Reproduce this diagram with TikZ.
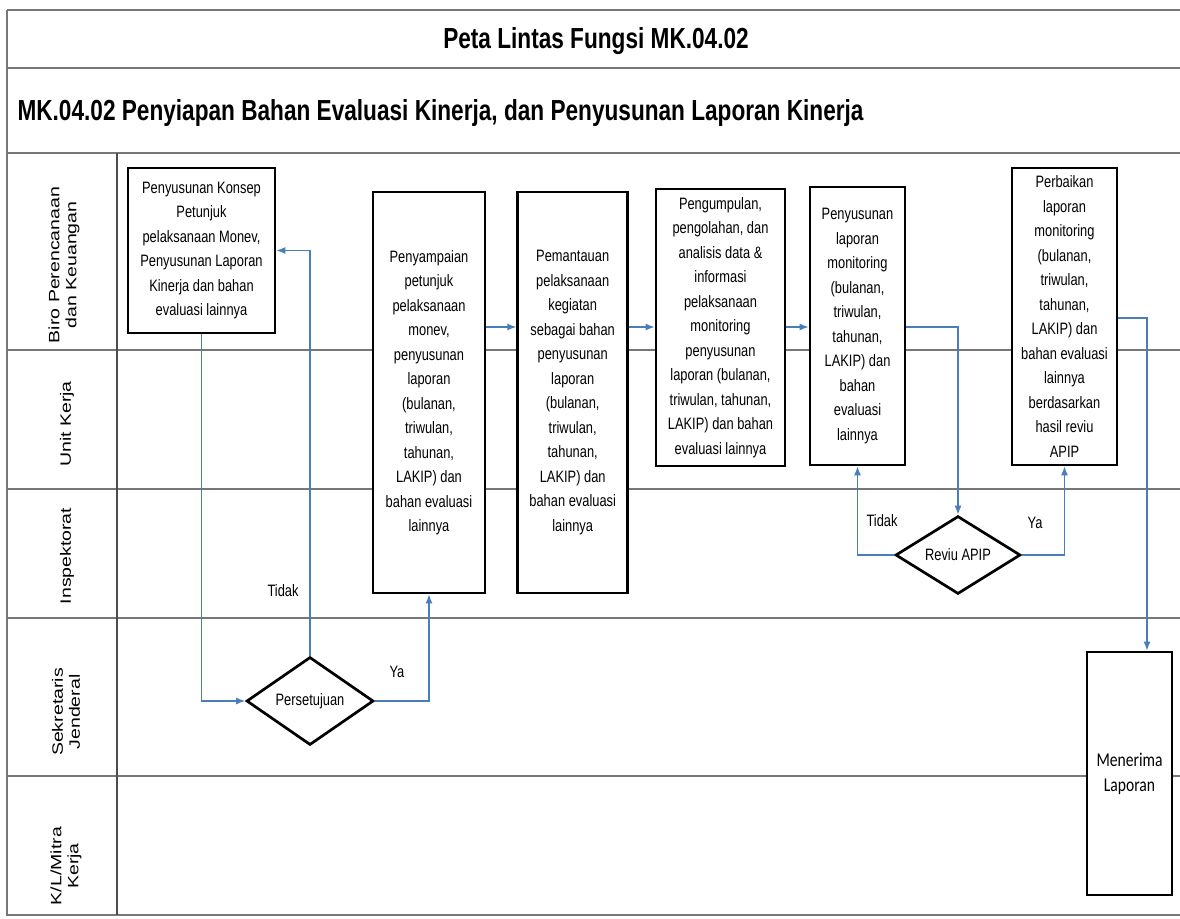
\documentclass[tikz,border=0pt]{standalone}
\usepackage{fontspec}
\setmainfont{Liberation Sans}[FakeStretch=0.78]
\newfontfamily\lanefont{Liberation Sans}[FakeStretch=1.3]
\newfontfamily\terimafont{Carlito}[FakeStretch=0.8]
\usepackage{tikz}
\usetikzlibrary{positioning,shapes.geometric,arrows.meta}
\definecolor{flowblue}{HTML}{4A7EBB}
\definecolor{laneline}{HTML}{777777}

\begin{document}
\begin{tikzpicture}[x=1pt,y=-1pt,node distance=30,
                    proc/.style={draw,fill=white,line width=2.7pt,align=center,
                      inner sep=2pt,font=\fontsize{16.5}{24.5}\selectfont},
                    decide/.style={diamond,draw,fill=white,line width=2.7pt,
                      inner sep=0pt,font=\fontsize{16.5}{19}\selectfont},
                    flow/.style={-{Latex[length=9pt,width=7pt]},flowblue,line width=1.3pt},
                    lane/.style={rotate=90,align=center,
                      font=\lanefont\fontsize{15}{17}\selectfont},
                    note/.style={font=\fontsize{16.5}{19}\selectfont}]

  \useasboundingbox (0,0) rectangle (1180,918);

  \draw[laneline,line width=1.5pt] (7,10) -- (1180,10) (7,10) -- (7,916);
  \draw[laneline,line width=2.5pt] (7,68) -- (1180,68) (7,153) -- (1180,153);
  \foreach \y in {350,489,618,776,915}
    \draw[laneline,line width=2.5pt] (7,\y) -- (1180,\y);
  \draw[black!70,line width=1.2pt] (117,153) -- (117,915);

  \node[font=\bfseries\fontsize{29}{34}\selectfont] (judul) at (596,41)
    {Peta Lintas Fungsi MK.04.02};
  \node[font=\bfseries\fontsize{29}{34}\selectfont,anchor=west] (subjudul) at (14,113)
    {MK.04.02 Penyiapan Bahan Evaluasi Kinerja, dan Penyusunan Laporan Kinerja};

  \node[lane] (biro) at (64,265) {Biro Perencanaan\\dan Keuangan};
  \node[lane] (unit) at (67,424) {Unit Kerja};
  \node[lane] (inspektorat) at (67,556) {Inspektorat};
  \node[lane] (sekjen) at (66,712) {Sekretaris\\Jenderal};
  \node[lane] (mitra) at (66,866) {K/L/Mitra\\Kerja};

  \node[proc,minimum width=147,minimum height=165] (konsep) at (201.5,250.5)
    {Penyusunan Konsep\\Petunjuk\\pelaksanaan Monev,\\Penyusunan Laporan\\Kinerja dan bahan\\evaluasi lainnya};
  \node[proc,minimum width=112,minimum height=401] (sampai) at (429,392.5)
    {Penyampaian\\petunjuk\\pelaksanaan\\monev,\\penyusunan\\laporan\\(bulanan,\\triwulan,\\tahunan,\\LAKIP) dan\\bahan evaluasi\\lainnya};
  \node[proc,minimum width=110,minimum height=401,right=of sampai] (pantau)
    {Pemantauan\\pelaksanaan\\kegiatan\\sebagai bahan\\penyusunan\\laporan\\(bulanan,\\triwulan,\\tahunan,\\LAKIP) dan\\bahan evaluasi\\lainnya};
  \node[proc,minimum width=129,minimum height=277] (kumpul) at (720.5,327.5)
    {Pengumpulan,\\pengolahan, dan\\analisis data \&\\informasi\\pelaksanaan\\monitoring\\penyusunan\\laporan (bulanan,\\triwulan, tahunan,\\LAKIP) dan bahan\\evaluasi lainnya};
  \node[proc,minimum width=95,minimum height=278] (susun) at (857.5,326)
    {Penyusunan\\laporan\\monitoring\\(bulanan,\\triwulan,\\tahunan,\\LAKIP) dan\\bahan\\evaluasi\\lainnya};
  \node[proc,minimum width=105,minimum height=297] (perbaikan) at (1064.5,316.5)
    {Perbaikan\\laporan\\monitoring\\(bulanan,\\triwulan,\\tahunan,\\LAKIP) dan\\bahan evaluasi\\lainnya\\berdasarkan\\hasil reviu\\APIP};
  \node[proc,minimum width=85,minimum height=243,
        font=\terimafont\fontsize{19.5}{25}\selectfont] (terima) at (1129.5,773.5)
    {Menerima\\Laporan};

  \node[decide,minimum width=127,minimum height=88] (setuju) at (310,701) {Persetujuan};
  \node[decide,minimum width=125,minimum height=75] (reviu) at (958,555) {Reviu APIP};

  \coordinate (arus) at (0,327);
  \coordinate (turun) at (1147,318);

  \draw[flow] (konsep.south) |- (setuju.west);
  \draw[flow] (setuju.north) |- (konsep.east);
  \draw[flow] (setuju.east) -| (sampai.south);
  \draw[flow] (sampai.east |- arus) -- (pantau.west |- arus);
  \draw[flow] (pantau.east |- arus) -- (kumpul.west |- arus);
  \draw[flow] (kumpul.east |- arus) -- (susun.west |- arus);
  \draw[flow] (susun.east |- arus) -| (reviu.north);
  \draw[flow] (reviu.west) -| (susun.south);
  \draw[flow] (reviu.east) -| (perbaikan.south);
  \draw[flow] (perbaikan.east |- turun) -- (turun) -- (turun |- terima.north);

  \node[note] (tidak1) at (283,591) {Tidak};
  \node[note] (ya1) at (397,672) {Ya};
  \node[note] (tidak2) at (882,521) {Tidak};
  \node[note] (ya2) at (1035,523) {Ya};
\end{tikzpicture}
\end{document}
